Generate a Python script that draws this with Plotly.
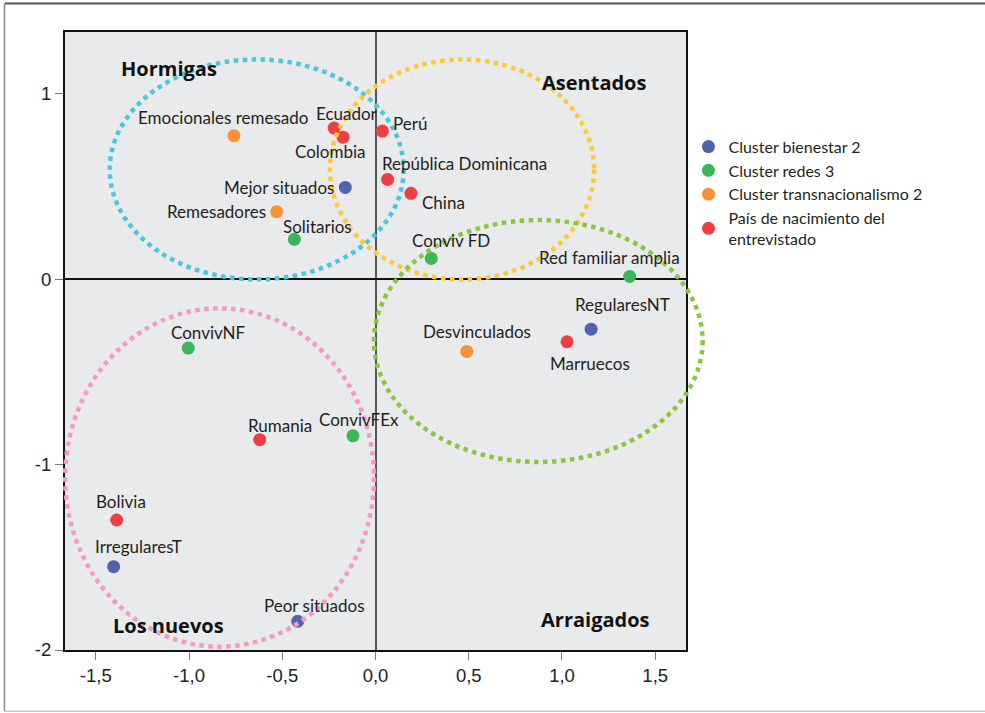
import plotly.graph_objects as go

# --- data --------------------------------------------------------------
bienestar_names = ["Mejor situados", "RegularesNT", "IrregularesT", "Peor situados"]
bienestar_x = [-0.162, 1.156, -1.404, -0.417]
bienestar_y = [0.494, -0.27, -1.551, -1.845]

redes_names = ["Solitarios", "Conviv FD", "Red familiar amplia", "ConvivNF", "ConvivFEx"]
redes_x = [-0.435, 0.299, 1.363, -1.004, -0.121]
redes_y = [0.214, 0.111, 0.014, -0.372, -0.845]

transnac_names = ["Emocionales remesado", "Remesadores", "Desvinculados"]
transnac_x = [-0.759, -0.53, 0.489]
transnac_y = [0.773, 0.363, -0.39]

pais_names = ["Ecuador", "Colombia", "Perú", "República Dominicana", "China",
              "Marruecos", "Rumania", "Bolivia"]
pais_x = [-0.222, -0.174, 0.037, 0.065, 0.19, 1.027, -0.621, -1.388]
pais_y = [0.814, 0.765, 0.798, 0.537, 0.462, -0.338, -0.866, -1.299]

# grouping ellipses: centre and half axes
ellipse_names = ["Hormigas", "Asentados", "Arraigados", "Los nuevos"]
ellipse_cx = [-0.637, 0.464, 0.873, -0.836]
ellipse_cy = [0.591, 0.591, -0.334, -1.07]
ellipse_rx = [0.788, 0.708, 0.881, 0.828]
ellipse_ry = [0.593, 0.593, 0.652, 0.912]

quadrant_x = [-1.107, 1.173, 1.181, -1.111]
quadrant_y = [1.137, 1.062, -1.838, -1.869]

x_ticks = [-1.5, -1.0, -0.5, 0.0, 0.5, 1.0, 1.5]
x_ticktext = ["-1,5", "-1,0", "-0,5", "0,0", "0,5", "1,0", "1,5"]
y_ticks = [1, 0, -1, -2]
y_ticktext = ["1", "0", "-1", "-2"]

# --- styling --------------------------------------------------------------
XR = [-1.665, 1.665]
YR = [-2.0, 1.332]
LABEL_FONT = "Lato, 'Open Sans', sans-serif"
TEXT_COL = "#231f20"

# label offsets in px: (dx, dy, xanchor)
label_pos = {
    "Mejor situados": (-9, 0, "right"),
    "RegularesNT": (31, 25, "center"),
    "IrregularesT": (25, 20, "center"),
    "Peor situados": (17, 16, "center"),
    "Solitarios": (23, 13, "center"),
    "Conviv FD": (20, 18, "center"),
    "Red familiar amplia": (-20, 19, "center"),
    "ConvivNF": (20, 16, "center"),
    "ConvivFEx": (6, 16, "center"),
    "Emocionales remesado": (-11, 18, "center"),
    "Remesadores": (-9, 0, "right"),
    "Desvinculados": (10, 20, "center"),
    "Ecuador": (13, 15, "center"),
    "Colombia": (-13, -14, "center"),
    "Perú": (9, 8, "left"),
    "República Dominicana": (77, 16, "center"),
    "China": (9, -9, "left"),
    "Marruecos": (23, -22, "center"),
    "Rumania": (20, 14, "center"),
    "Bolivia": (4, 18, "center"),
}

series = [
    ("Cluster bienestar 2", bienestar_names, bienestar_x, bienestar_y, "#5262ae"),
    ("Cluster redes 3", redes_names, redes_x, redes_y, "#3db55b"),
    ("Cluster transnacionalismo 2", transnac_names, transnac_x, transnac_y, "#f7923a"),
    ("País de nacimiento del<br>entrevistado", pais_names, pais_x, pais_y, "#ee3e44"),
]

fig = go.Figure()
annotations = []
for legend_name, names, xs, ys, col in series:
    fig.add_trace(go.Scatter(
        x=xs, y=ys, mode="markers", name=legend_name,
        marker=dict(color=col, size=13, opacity=1),
        hovertext=names, hoverinfo="text",
    ))
    for n, xv, yv in zip(names, xs, ys):
        dx, dy, anchor = label_pos[n]
        annotations.append(dict(
            x=xv, y=yv, text=n, showarrow=False, xanchor=anchor, yanchor="middle",
            xshift=dx, yshift=dy,
            font=dict(family=LABEL_FONT, size=17, color=TEXT_COL),
        ))

for n, xv, yv in zip(ellipse_names, quadrant_x, quadrant_y):
    annotations.append(dict(
        x=xv, y=yv, text="<b>" + n + "</b>", showarrow=False,
        font=dict(family="'Open Sans', sans-serif", size=20, color="#111111"),
    ))

# ellipses in paper coordinates so they are not clipped at the frame
ell_colors = ["#4cc6dc", "#ffc933", "#8cc63f", "#f59ac2"]
def px(v):
    return (v - XR[0]) / (XR[1] - XR[0])
def py(v):
    return (v - YR[0]) / (YR[1] - YR[0])

shapes = []
for cx, cy, rx, ry, col in zip(ellipse_cx, ellipse_cy, ellipse_rx, ellipse_ry, ell_colors):
    shapes.append(dict(
        type="circle", xref="paper", yref="paper",
        x0=px(cx - rx), x1=px(cx + rx), y0=py(cy - ry), y1=py(cy + ry),
        line=dict(color=col, width=4.5, dash="dot"), layer="above",
    ))

# outer picture frame (top, left, bottom edges only)
shapes += [
    dict(type="line", xref="paper", yref="paper", x0=-0.097, x1=1.6, y0=1.046, y1=1.046,
         line=dict(color="#555555", width=2)),
    dict(type="line", xref="paper", yref="paper", x0=-0.0975, x1=-0.0975, y0=1.046, y1=-0.099,
         line=dict(color="#888888", width=1.5)),
    dict(type="line", xref="paper", yref="paper", x0=-0.097, x1=1.6, y0=-0.099, y1=-0.099,
         line=dict(color="#c8c8c8", width=1.5)),
]

tickfont = dict(family="Liberation Sans, Arial", size=18.5, color="#222222")

fig.update_layout(
    width=985, height=713,
    margin=dict(l=65, r=299, t=32, b=63),
    paper_bgcolor="white",
    plot_bgcolor="#e9eaec",
    showlegend=True,
    legend=dict(
        x=1.004, y=0.842, xanchor="left", yanchor="top",
        font=dict(family=LABEL_FONT, size=16, color=TEXT_COL),
        bgcolor="rgba(0,0,0,0)",
        tracegroupgap=0,
    ),
    annotations=annotations,
    shapes=shapes,
    xaxis=dict(
        range=XR, tickvals=x_ticks, ticktext=x_ticktext,
        showgrid=False, zeroline=True, zerolinecolor="#555555", zerolinewidth=1.5,
        showline=True, linecolor="#111111", linewidth=2, mirror=True,
        ticks="outside", ticklen=8, tickcolor="#777777",
        tickfont=tickfont,
    ),
    yaxis=dict(
        range=YR, tickvals=y_ticks, ticktext=y_ticktext,
        showgrid=False, zeroline=True, zerolinecolor="#111111", zerolinewidth=1.5,
        showline=True, linecolor="#111111", linewidth=2, mirror=True,
        ticks="outside", ticklen=8, tickcolor="#777777",
        tickfont=tickfont,
    ),
)

# drop the default 8px page margin so the figure sits at the window origin
fig.write_html("out.html", config={"displayModeBar": False},
               post_script="document.body.style.margin='0';")
